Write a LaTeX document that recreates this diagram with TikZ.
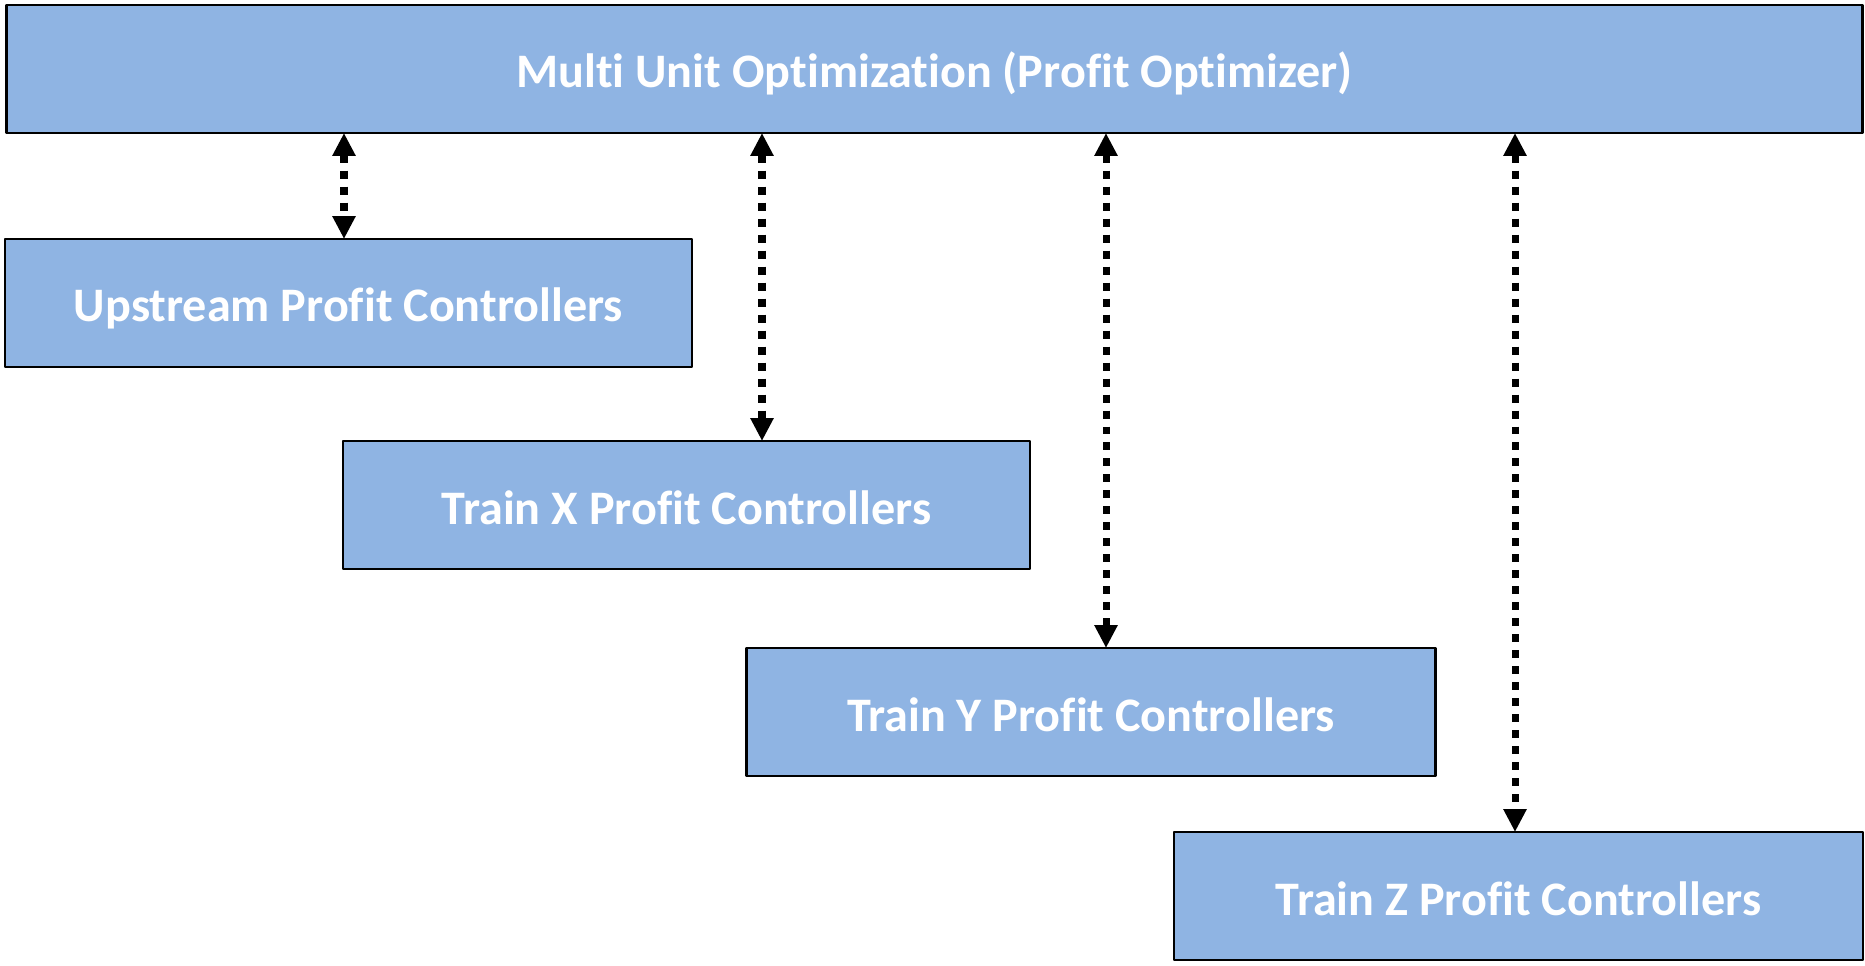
\documentclass[tikz,border=0pt]{standalone}
\usepackage{fontspec}
\setmainfont{Carlito}[Ligatures=NoCommon]
\usetikzlibrary{arrows.meta}
\definecolor{boxblue}{RGB}{143,180,227}
\begin{document}
\begin{tikzpicture}[x=0.02cm,y=-0.02cm,line join=round,
		font=\fontsize{27.4}{33}\selectfont\bfseries,
		unit/.style={draw=black,line width=1.6pt,fill=boxblue,text=white,outer sep=0pt,
			minimum height=2.56cm,text height=0.8cm,text depth=0.04cm},
		link/.style={line width=4pt,dash pattern=on 0.16cm off 0.16cm,
			{Triangle[width=0.44cm,length=0.46cm]}-{Triangle[width=0.44cm,length=0.46cm]}}]
	\useasboundingbox (0,0) rectangle (1865,966);
	\node[unit,minimum width=37.14cm] (opt) at (934.5,69) {Multi Unit Optimization (Profit Optimizer)};
	\node[unit,minimum width=13.74cm] (up) at (348.5,303) {Upstream Profit Controllers};
	\node[unit,minimum width=13.74cm] (tx) at (686.5,505) {Train X Profit Controllers};
	\node[unit,minimum width=13.78cm] (ty) at (1091,712) {Train Y Profit Controllers};
	\node[unit,minimum width=13.78cm] (tz) at (1518.5,896) {Train Z Profit Controllers};
	% links between the optimizer and each controller group
	\draw[link] (opt.south -| 344,0) -- (up.north -| 344,0);
	\draw[link] (opt.south -| 762,0) -- (tx.north -| 762,0);
	\draw[link] (opt.south -| 1106,0) -- (ty.north -| 1106,0);
	\draw[link] (opt.south -| 1515,0) -- (tz.north -| 1515,0);
\end{tikzpicture}
\end{document}
